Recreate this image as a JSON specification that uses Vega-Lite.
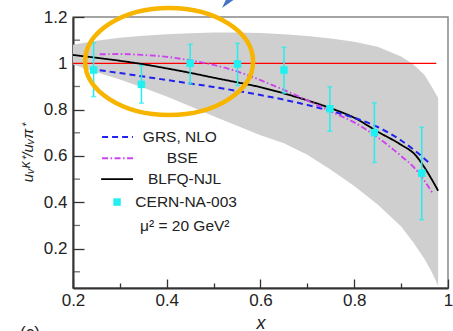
{
  "$schema": "https://vega.github.io/schema/vega-lite/v6.json",
  "width": 375,
  "height": 271,
  "autosize": {"type": "none"},
  "padding": {"left": 73, "top": 17, "right": 5, "bottom": 43},
  "background": "white",
  "config": {
    "view": {"stroke": "#888888", "strokeWidth": 1.5},
    "font": "Liberation Sans",
    "axis": {
      "labelFont": "Liberation Sans",
      "titleFont": "Liberation Sans",
      "labelColor": "#222222",
      "titleColor": "#222222",
      "domainColor": "#333333",
      "domainWidth": 2,
      "tickColor": "#333333",
      "tickWidth": 1.3,
      "grid": false,
      "labelFontSize": 17
    }
  },
  "datasets": {
    "band": [
      {"x": 0.2, "lo": 0.995, "hi": 1.08},
      {"x": 0.25, "lo": 0.962, "hi": 1.098},
      {"x": 0.3, "lo": 0.93, "hi": 1.11},
      {"x": 0.35, "lo": 0.895, "hi": 1.119},
      {"x": 0.4, "lo": 0.857, "hi": 1.126},
      {"x": 0.45, "lo": 0.815, "hi": 1.13},
      {"x": 0.5, "lo": 0.772, "hi": 1.133},
      {"x": 0.55, "lo": 0.73, "hi": 1.133},
      {"x": 0.6, "lo": 0.69, "hi": 1.131},
      {"x": 0.65, "lo": 0.655, "hi": 1.126},
      {"x": 0.7, "lo": 0.605, "hi": 1.118},
      {"x": 0.75, "lo": 0.54, "hi": 1.107},
      {"x": 0.8, "lo": 0.47, "hi": 1.093},
      {"x": 0.85, "lo": 0.39, "hi": 1.072},
      {"x": 0.9, "lo": 0.295, "hi": 1.03},
      {"x": 0.925, "lo": 0.23, "hi": 0.997},
      {"x": 0.95, "lo": 0.155, "hi": 0.95},
      {"x": 0.965, "lo": 0.1, "hi": 0.9},
      {"x": 0.979, "lo": 0.04, "hi": 0.85}
    ],
    "curves": [
      {"series": "BLFQ-NJL", "x": 0.2, "y": 1.036},
      {"series": "BLFQ-NJL", "x": 0.25, "y": 1.024},
      {"series": "BLFQ-NJL", "x": 0.3, "y": 1.011},
      {"series": "BLFQ-NJL", "x": 0.35, "y": 0.996},
      {"series": "BLFQ-NJL", "x": 0.4, "y": 0.978},
      {"series": "BLFQ-NJL", "x": 0.45, "y": 0.959},
      {"series": "BLFQ-NJL", "x": 0.5, "y": 0.938},
      {"series": "BLFQ-NJL", "x": 0.55, "y": 0.918},
      {"series": "BLFQ-NJL", "x": 0.6, "y": 0.897},
      {"series": "BLFQ-NJL", "x": 0.65, "y": 0.87},
      {"series": "BLFQ-NJL", "x": 0.7, "y": 0.84},
      {"series": "BLFQ-NJL", "x": 0.75, "y": 0.806},
      {"series": "BLFQ-NJL", "x": 0.8, "y": 0.765},
      {"series": "BLFQ-NJL", "x": 0.85, "y": 0.705},
      {"series": "BLFQ-NJL", "x": 0.9, "y": 0.648},
      {"series": "BLFQ-NJL", "x": 0.93, "y": 0.605},
      {"series": "BLFQ-NJL", "x": 0.95, "y": 0.55},
      {"series": "BLFQ-NJL", "x": 0.965, "y": 0.5},
      {"series": "BLFQ-NJL", "x": 0.979, "y": 0.45},
      {"series": "GRS, NLO", "x": 0.257, "y": 0.97},
      {"series": "GRS, NLO", "x": 0.3, "y": 0.958},
      {"series": "GRS, NLO", "x": 0.35, "y": 0.943},
      {"series": "GRS, NLO", "x": 0.4, "y": 0.928},
      {"series": "GRS, NLO", "x": 0.45, "y": 0.913},
      {"series": "GRS, NLO", "x": 0.5, "y": 0.898},
      {"series": "GRS, NLO", "x": 0.55, "y": 0.881},
      {"series": "GRS, NLO", "x": 0.6, "y": 0.863},
      {"series": "GRS, NLO", "x": 0.65, "y": 0.843},
      {"series": "GRS, NLO", "x": 0.7, "y": 0.82},
      {"series": "GRS, NLO", "x": 0.75, "y": 0.794},
      {"series": "GRS, NLO", "x": 0.8, "y": 0.765},
      {"series": "GRS, NLO", "x": 0.85, "y": 0.725},
      {"series": "GRS, NLO", "x": 0.9, "y": 0.667},
      {"series": "GRS, NLO", "x": 0.93, "y": 0.622},
      {"series": "GRS, NLO", "x": 0.96, "y": 0.57},
      {"series": "BSE", "x": 0.257, "y": 1.039},
      {"series": "BSE", "x": 0.3, "y": 1.04},
      {"series": "BSE", "x": 0.35, "y": 1.036},
      {"series": "BSE", "x": 0.4, "y": 1.028},
      {"series": "BSE", "x": 0.45, "y": 1.013},
      {"series": "BSE", "x": 0.5, "y": 0.993},
      {"series": "BSE", "x": 0.55, "y": 0.965},
      {"series": "BSE", "x": 0.6, "y": 0.927},
      {"series": "BSE", "x": 0.65, "y": 0.885},
      {"series": "BSE", "x": 0.7, "y": 0.84},
      {"series": "BSE", "x": 0.75, "y": 0.792},
      {"series": "BSE", "x": 0.8, "y": 0.745},
      {"series": "BSE", "x": 0.85, "y": 0.68},
      {"series": "BSE", "x": 0.9, "y": 0.6},
      {"series": "BSE", "x": 0.93, "y": 0.545},
      {"series": "BSE", "x": 0.968, "y": 0.437}
    ],
    "points": [
      {"x": 0.244, "y": 0.971, "lo": 0.856, "hi": 1.089},
      {"x": 0.346, "y": 0.909, "lo": 0.828, "hi": 0.99},
      {"x": 0.45, "y": 1.0, "lo": 0.911, "hi": 1.082},
      {"x": 0.551, "y": 0.997, "lo": 0.904, "hi": 1.086},
      {"x": 0.65, "y": 0.971, "lo": 0.871, "hi": 1.069},
      {"x": 0.748, "y": 0.804, "lo": 0.707, "hi": 0.899},
      {"x": 0.843, "y": 0.701, "lo": 0.572, "hi": 0.83},
      {"x": 0.944, "y": 0.526, "lo": 0.325, "hi": 0.724}
    ],
    "minorY": [
      {"x": 0.2, "y": 0.1}, {"x": 0.2, "y": 0.3}, {"x": 0.2, "y": 0.5},
      {"x": 0.2, "y": 0.7}, {"x": 0.2, "y": 0.9}, {"x": 0.2, "y": 1.1}
    ],
    "legendLines": [
      {"series": "GRS, NLO", "x": 0.262, "y": 0.682},
      {"series": "GRS, NLO", "x": 0.328, "y": 0.682},
      {"series": "BSE", "x": 0.262, "y": 0.59},
      {"series": "BSE", "x": 0.328, "y": 0.59},
      {"series": "BLFQ-NJL", "x": 0.26, "y": 0.5},
      {"series": "BLFQ-NJL", "x": 0.328, "y": 0.5}
    ],
    "legendText": [
      {"label": "GRS, NLO", "x": 0.349, "y": 0.682},
      {"label": "BSE", "x": 0.4, "y": 0.59},
      {"label": "BLFQ-NJL", "x": 0.36, "y": 0.5},
      {"label": "CERN-NA-003", "x": 0.333, "y": 0.401},
      {"label": "μ² = 20 GeV²", "x": 0.343, "y": 0.296}
    ]
  },
  "layer": [
    {
      "data": {"name": "band"},
      "mark": {"type": "area", "color": "#cfcfcf", "opacity": 1},
      "encoding": {
        "x": {"field": "x", "type": "quantitative", "scale": {"domain": [0.2, 1.0], "nice": false, "zero": false},
          "axis": {
            "values": [0.2, 0.3, 0.4, 0.5, 0.6, 0.7, 0.8, 0.9, 1.0],
            "labelExpr": "round(datum.value*10)%2==0 ? '' + datum.value : ''",
            "tickSize": {"condition": {"test": "round(datum.value*10)%2==0", "value": -9}, "value": -5},
            "labelPadding": 13,
            "labelFlush": false,
            "labelOverlap": false,
            "title": "x",
            "titleFontSize": 18,
            "titleFontStyle": "italic",
            "titleFontWeight": "normal",
            "titlePadding": 2
          }},
        "y": {"field": "lo", "type": "quantitative", "scale": {"domain": [0.03, 1.2], "nice": false, "zero": false},
          "axis": {
            "values": [0.2, 0.4, 0.6, 0.8, 1.0, 1.2],
            "labelExpr": "'' + datum.value",
            "tickSize": -11,
            "labelPadding": 17,
            "labelFlush": false,
            "labelOverlap": false,
            "title": "uᵥᴷ⁺/uᵥπ⁺",
            "titleFontSize": 15,
            "titleFontStyle": "italic",
            "titleFontWeight": "normal",
            "titlePadding": 8
          }},
        "y2": {"field": "hi"}
      }
    },
    {
      "data": {"name": "minorY"},
      "mark": {"type": "tick", "color": "#333333", "orient": "horizontal", "size": 14, "thickness": 1.3, "clip": true},
      "encoding": {
        "x": {"field": "x", "type": "quantitative"},
        "y": {"field": "y", "type": "quantitative"}
      }
    },
    {
      "data": {"values": [{"x": 0.2, "x2": 0.975, "y": 1.0}]},
      "mark": {"type": "rule", "color": "#ff0000", "strokeWidth": 1.3},
      "encoding": {
        "x": {"field": "x", "type": "quantitative"},
        "x2": {"field": "x2"},
        "y": {"field": "y", "type": "quantitative"}
      }
    },
    {
      "data": {"name": "curves"},
      "mark": {"type": "line", "interpolate": "monotone"},
      "encoding": {
        "x": {"field": "x", "type": "quantitative"},
        "y": {"field": "y", "type": "quantitative"},
        "color": {"field": "series", "type": "nominal", "legend": null,
          "scale": {"domain": ["GRS, NLO", "BSE", "BLFQ-NJL"], "range": ["#2222ee", "#cc44ee", "#000000"]}},
        "strokeDash": {"field": "series", "type": "nominal", "legend": null,
          "scale": {"domain": ["GRS, NLO", "BSE", "BLFQ-NJL"], "range": [[6, 4], [6, 2.5, 1.5, 2.5], [1, 0]]}},
        "strokeWidth": {"field": "series", "type": "nominal", "legend": null,
          "scale": {"domain": ["GRS, NLO", "BSE", "BLFQ-NJL"], "range": [2, 1.8, 2]}}
      }
    },
    {
      "data": {"name": "points"},
      "mark": {"type": "rule", "color": "#22eeee", "strokeWidth": 1.5},
      "encoding": {
        "x": {"field": "x", "type": "quantitative"},
        "y": {"field": "lo", "type": "quantitative"},
        "y2": {"field": "hi"}
      }
    },
    {
      "data": {"name": "points"},
      "mark": {"type": "tick", "color": "#22eeee", "orient": "horizontal", "size": 5, "thickness": 1.5},
      "encoding": {
        "x": {"field": "x", "type": "quantitative"},
        "y": {"field": "lo", "type": "quantitative"}
      }
    },
    {
      "data": {"name": "points"},
      "mark": {"type": "tick", "color": "#22eeee", "orient": "horizontal", "size": 5, "thickness": 1.5},
      "encoding": {
        "x": {"field": "x", "type": "quantitative"},
        "y": {"field": "hi", "type": "quantitative"}
      }
    },
    {
      "data": {"name": "points"},
      "mark": {"type": "point", "shape": "square", "filled": true, "color": "#22f0f0", "opacity": 1, "size": 56},
      "encoding": {
        "x": {"field": "x", "type": "quantitative"},
        "y": {"field": "y", "type": "quantitative"}
      }
    },
    {
      "data": {"name": "legendLines"},
      "mark": {"type": "line"},
      "encoding": {
        "x": {"field": "x", "type": "quantitative"},
        "y": {"field": "y", "type": "quantitative"},
        "detail": {"field": "series"},
        "color": {"field": "series", "type": "nominal", "legend": null},
        "strokeDash": {"field": "series", "type": "nominal", "legend": null},
        "strokeWidth": {"field": "series", "type": "nominal", "legend": null}
      }
    },
    {
      "data": {"values": [{"x": 0.294, "y": 0.401}]},
      "mark": {"type": "point", "shape": "square", "filled": true, "color": "#22f0f0", "opacity": 1, "size": 56},
      "encoding": {
        "x": {"field": "x", "type": "quantitative"},
        "y": {"field": "y", "type": "quantitative"}
      }
    },
    {
      "data": {"name": "legendText"},
      "mark": {"type": "text", "align": "left", "baseline": "middle", "fontSize": 15.5, "color": "#222222", "font": "Liberation Sans"},
      "encoding": {
        "x": {"field": "x", "type": "quantitative"},
        "y": {"field": "y", "type": "quantitative"},
        "text": {"field": "label"}
      }
    },
    {
      "data": {"values": [{"x": 0.405, "y": 1.008}]},
      "mark": {"type": "point", "filled": false, "stroke": "#f7b500", "strokeWidth": 4.5, "opacity": 1, "clip": false,
        "shape": "M-1,0A1,0.637,0,1,0,1,0A1,0.637,0,1,0,-1,0Z", "size": 28224},
      "encoding": {
        "x": {"field": "x", "type": "quantitative"},
        "y": {"field": "y", "type": "quantitative"}
      }
    },
    {
      "data": {"values": [{"x": 0.535, "y": 1.27}]},
      "mark": {"type": "point", "filled": true, "color": "#4472c4", "opacity": 1, "clip": false,
        "shape": "M-1,0.9L-0.1,-1L1,-0.5Z", "size": 256},
      "encoding": {
        "x": {"field": "x", "type": "quantitative"},
        "y": {"field": "y", "type": "quantitative"}
      }
    },
    {
      "data": {"values": [{"x": 0.087, "y": -0.13, "label": "(c)"}]},
      "mark": {"type": "text", "align": "left", "baseline": "top", "fontSize": 17, "color": "#222222"},
      "encoding": {
        "x": {"field": "x", "type": "quantitative"},
        "y": {"field": "y", "type": "quantitative"},
        "text": {"field": "label"}
      }
    }
  ]
}
